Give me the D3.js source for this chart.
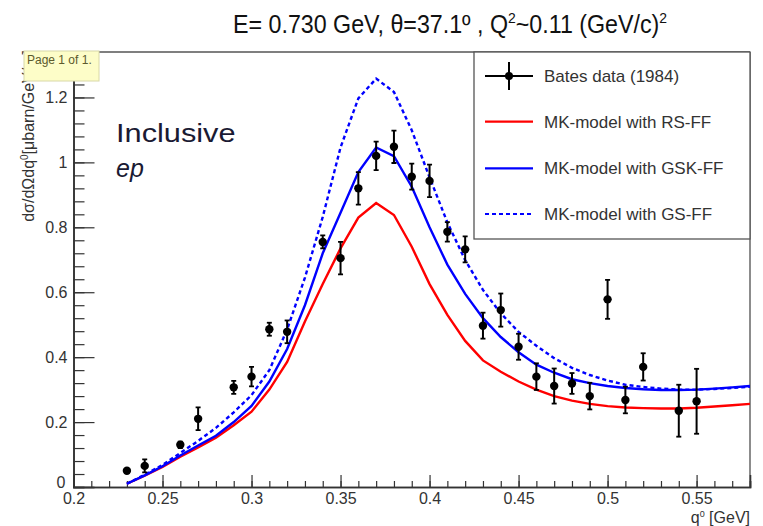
<!DOCTYPE html>
<html>
<head>
<meta charset="utf-8">
<script src="https://cdn.jsdelivr.net/npm/d3@7"></script>
<style>
  html, body { margin: 0; padding: 0; background: #fff; }
  svg { display: block; }
  text { font-family: "Liberation Sans", Arial, Helvetica, sans-serif; }
</style>
</head>
<body>
<svg id="chart" width="763" height="526"></svg>
<script>
// ---------------- data ----------------
const titleParts = ["E= 0.730 GeV,  \u03b8=37.1\u00ba ,  Q", "2", "~0.11 (GeV/c)", "2"];
const xTicks = [0.2, 0.25, 0.3, 0.35, 0.4, 0.45, 0.5, 0.55];
const xTickLabels = ["0.2", "0.25", "0.3", "0.35", "0.4", "0.45", "0.5", "0.55"];
const yTicks = [0, 0.2, 0.4, 0.6, 0.8, 1, 1.2];
const yTickLabels = ["0", "0.2", "0.4", "0.6", "0.8", "1", "1.2"];

// Bates data (1984)
const qData = [0.23, 0.24, 0.26, 0.27, 0.29, 0.30, 0.31, 0.32, 0.34, 0.35, 0.36, 0.37, 0.38, 0.39, 0.40,
               0.41, 0.42, 0.43, 0.44, 0.45, 0.46, 0.47, 0.48, 0.49, 0.50, 0.51, 0.52, 0.54, 0.55];
const yData = [0.05, 0.065, 0.13, 0.21, 0.307, 0.34, 0.486, 0.478, 0.755, 0.705, 0.92, 1.02, 1.048, 0.956, 0.943,
               0.786, 0.732, 0.497, 0.545, 0.432, 0.34, 0.311, 0.319, 0.28, 0.578, 0.268, 0.37, 0.235, 0.264];
const yErr  = [0.006, 0.02, 0.01, 0.035, 0.02, 0.03, 0.02, 0.035, 0.02, 0.05, 0.05, 0.044, 0.05, 0.04, 0.05,
               0.03, 0.04, 0.04, 0.051, 0.04, 0.041, 0.054, 0.032, 0.041, 0.06, 0.041, 0.042, 0.08, 0.1];

// model curves
const qModel = [0.23, 0.24, 0.25, 0.26, 0.27, 0.28, 0.29, 0.30, 0.31, 0.32, 0.33, 0.34, 0.35, 0.36, 0.37, 0.38,
                0.39, 0.40, 0.41, 0.42, 0.43, 0.44, 0.45, 0.46, 0.47, 0.48, 0.49, 0.50, 0.51, 0.52, 0.53, 0.54,
                0.55, 0.56, 0.57, 0.58];
const rsFF  = [0.01, 0.035, 0.062, 0.093, 0.122, 0.152, 0.19, 0.232, 0.30, 0.385, 0.51, 0.625, 0.735, 0.83, 0.875, 0.838,
               0.74, 0.625, 0.53, 0.45, 0.39, 0.355, 0.325, 0.30, 0.28, 0.266, 0.256, 0.249, 0.245, 0.243, 0.242, 0.242,
               0.244, 0.248, 0.252, 0.256];
const gskFF = [0.01, 0.036, 0.064, 0.097, 0.128, 0.158, 0.20, 0.25, 0.325, 0.425, 0.56, 0.72, 0.845, 0.97, 1.046, 1.019,
               0.925, 0.80, 0.685, 0.595, 0.52, 0.462, 0.415, 0.377, 0.352, 0.332, 0.32, 0.311, 0.305, 0.301, 0.299, 0.299,
               0.300, 0.303, 0.307, 0.311];
const gsFF  = [0.01, 0.038, 0.068, 0.105, 0.142, 0.182, 0.23, 0.283, 0.36, 0.485, 0.645, 0.832, 1.046, 1.197, 1.258, 1.217,
               1.099, 0.954, 0.815, 0.699, 0.607, 0.535, 0.478, 0.435, 0.397, 0.367, 0.345, 0.328, 0.315, 0.308, 0.303, 0.300,
               0.300, 0.302, 0.305, 0.309];

const legendLabels = ["Bates data (1984)", "MK-model with RS-FF", "MK-model with GSK-FF", "MK-model with GS-FF"];

// ---------------- layout ----------------
const svg = d3.select("#chart");
const L = 73.5, R = 750, T = 52, B = 487;
const x = d3.scaleLinear().domain([0.2, 0.58]).range([L, R]);
const y = d3.scaleLinear().domain([0, 1.34]).range([B, T]);

// title (slightly condensed, as in the reference)
const title = svg.append("g").attr("transform", "translate(233,33) scale(0.93,1)")
  .append("text").attr("x", 0).attr("y", 0).attr("font-size", 25).attr("fill", "#111");
title.append("tspan").text(titleParts[0]);
title.append("tspan").attr("font-size", 15).attr("dy", -10).text(titleParts[1]);
title.append("tspan").attr("dy", 10).text(titleParts[2]);
title.append("tspan").attr("font-size", 15).attr("dy", -10).text(titleParts[3]);

// clip
svg.append("clipPath").attr("id", "clip")
  .append("rect").attr("x", L).attr("y", T).attr("width", R - L).attr("height", B - T);

// frame (top/right)
svg.append("line").attr("x1", L).attr("x2", R).attr("y1", T).attr("y2", T).attr("stroke", "#555").attr("stroke-width", 1.5);
svg.append("line").attr("x1", R).attr("x2", R).attr("y1", T).attr("y2", B).attr("stroke", "#666").attr("stroke-width", 1.5);

// x axis
const xMinor = d3.range(20, 59).map(d => d / 100);
const gxMinor = svg.append("g").attr("transform", `translate(0,${B})`)
  .call(d3.axisBottom(x).tickValues(xMinor).tickSize(-6).tickFormat(""));
const gx = svg.append("g").attr("transform", `translate(0,${B})`)
  .call(d3.axisBottom(x).tickValues(xTicks).tickSize(-12).tickPadding(6)
        .tickFormat((d, i) => xTickLabels[i]));
[gx, gxMinor].forEach(g => {
  g.select(".domain").attr("stroke", "#333").attr("stroke-width", 1.6);
  g.selectAll(".tick line").attr("stroke", "#333").attr("stroke-width", 1.2);
});
gx.selectAll(".tick text").attr("font-size", 16).attr("fill", "#333")
  .attr("font-family", "Liberation Sans, Arial, sans-serif");

// y axis
const yMinor = d3.range(0, 34).map(d => d * 0.04);
const gyMinor = svg.append("g").attr("transform", `translate(${L},0)`)
  .call(d3.axisLeft(y).tickValues(yMinor).tickSize(-11).tickFormat(""));
const gy = svg.append("g").attr("transform", `translate(${L},0)`)
  .call(d3.axisLeft(y).tickValues(yTicks).tickSize(-21).tickPadding(6)
        .tickFormat((d, i) => yTickLabels[i]));
[gy, gyMinor].forEach(g => {
  g.select(".domain").attr("stroke", "#333").attr("stroke-width", 1.6);
  g.selectAll(".tick line").attr("stroke", "#333").attr("stroke-width", 1.2);
});
gy.selectAll(".tick text").attr("font-size", 16).attr("fill", "#333")
  .attr("font-family", "Liberation Sans, Arial, sans-serif");
// lift the "0" label a little so it does not collide with the x label "0.2"
gy.selectAll(".tick text").filter(d => d === 0).attr("dy", "0.05em").attr("x", -8);

// axis titles
const xt = svg.append("text").attr("x", R).attr("y", 523).attr("text-anchor", "end")
  .attr("font-size", 16).attr("fill", "#333");
xt.append("tspan").text("q");
xt.append("tspan").attr("font-size", 9).attr("dy", -6).text("0");
xt.append("tspan").attr("dy", 6).text(" [GeV]");

const yt = svg.append("text").attr("transform", "translate(34,50) rotate(-90)")
  .attr("text-anchor", "end").attr("font-size", 16).attr("fill", "#333");
yt.append("tspan").text("d\u03c3/d\u03a9dq");
yt.append("tspan").attr("font-size", 10).attr("dy", -6).text("0");
yt.append("tspan").attr("dy", 6).text("[\u03bcbarn/GeV/sr]");

// curves
const plot = svg.append("g").attr("clip-path", "url(#clip)");
const line = arr => d3.line().x((d, i) => x(qModel[i])).y(d => y(d))(arr);
plot.append("path").attr("d", line(rsFF)).attr("fill", "none").attr("stroke", "#ff0000").attr("stroke-width", 2.4);
plot.append("path").attr("d", line(gskFF)).attr("fill", "none").attr("stroke", "#0000ff").attr("stroke-width", 2.4);
plot.append("path").attr("d", line(gsFF)).attr("fill", "none").attr("stroke", "#0000ff").attr("stroke-width", 2.4)
  .attr("stroke-dasharray", "4,3");

// data points with error bars
const pts = plot.append("g");
qData.forEach((q, i) => {
  const cx = x(q), cy = y(yData[i]);
  const y1 = y(yData[i] - yErr[i]), y2 = y(yData[i] + yErr[i]);
  pts.append("line").attr("x1", cx).attr("x2", cx).attr("y1", y1).attr("y2", y2)
    .attr("stroke", "#000").attr("stroke-width", 2);
  [y1, y2].forEach(yy => pts.append("line").attr("x1", cx - 2.5).attr("x2", cx + 2.5)
    .attr("y1", yy).attr("y2", yy).attr("stroke", "#000").attr("stroke-width", 1.8));
  pts.append("circle").attr("cx", cx).attr("cy", cy).attr("r", 4.2).attr("fill", "#000");
});

// annotation
svg.append("g").attr("transform", "translate(116,141.5) scale(1.16,1)")
  .append("text").attr("x", 0).attr("y", 0).attr("font-size", 26.5)
  .attr("font-family", "DejaVu Sans, sans-serif").attr("fill", "#1a1a33").text("Inclusive");
svg.append("text").attr("x", 116).attr("y", 176.5).attr("font-size", 25).attr("font-style", "italic")
  .attr("font-family", "DejaVu Sans, sans-serif").attr("fill", "#1a1a33").text("ep");

// legend
const lg = svg.append("g");
lg.append("rect").attr("x", 474).attr("y", T).attr("width", R - 474).attr("height", 239 - T)
  .attr("fill", "#fff").attr("stroke", "#555").attr("stroke-width", 1.3);
const rowY = [76, 121.7, 168.3, 214];
const lx1 = 485, lx2 = 533, lxm = 509;
lg.append("line").attr("x1", lx1).attr("x2", lx2).attr("y1", rowY[0]).attr("y2", rowY[0]).attr("stroke", "#000").attr("stroke-width", 2);
lg.append("line").attr("x1", lxm).attr("x2", lxm).attr("y1", rowY[0] - 14).attr("y2", rowY[0] + 14).attr("stroke", "#000").attr("stroke-width", 2);
lg.append("circle").attr("cx", lxm).attr("cy", rowY[0]).attr("r", 4).attr("fill", "#000");
lg.append("line").attr("x1", lx1).attr("x2", lx2).attr("y1", rowY[1]).attr("y2", rowY[1]).attr("stroke", "#ff0000").attr("stroke-width", 2.2);
lg.append("line").attr("x1", lx1).attr("x2", lx2).attr("y1", rowY[2]).attr("y2", rowY[2]).attr("stroke", "#0000ff").attr("stroke-width", 2.2);
lg.append("line").attr("x1", lx1).attr("x2", lx2).attr("y1", rowY[3]).attr("y2", rowY[3]).attr("stroke", "#0000ff").attr("stroke-width", 2.2)
  .attr("stroke-dasharray", "4,3");
legendLabels.forEach((t, i) => {
  lg.append("text").attr("x", 544).attr("y", rowY[i] + 6).attr("font-size", 17).attr("fill", "#333").text(t);
});

// "Page 1 of 1." tooltip box
svg.append("rect").attr("x", 24).attr("y", 51).attr("width", 75).attr("height", 30)
  .attr("fill", "#fdfdc8").attr("stroke", "#d8d8a8").attr("stroke-width", 1);
svg.append("text").attr("x", 27).attr("y", 64).attr("font-size", 12).attr("fill", "#5c5a2c").text("Page 1 of 1.");
</script>
</body>
</html>
